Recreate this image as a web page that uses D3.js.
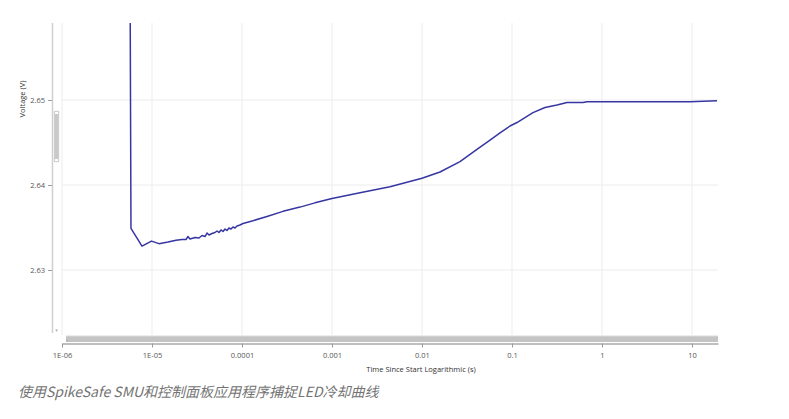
<!DOCTYPE html>
<html><head><meta charset="utf-8">
<script src="https://cdn.jsdelivr.net/npm/d3@7"></script>
<style>
html,body{margin:0;padding:0;background:#fff;}
svg{display:block;}
</style></head>
<body>
<script>
const timeValues = [5.55e-6, 5.84e-6, 7.74e-6, 9.87e-6, 1.196e-5, 1.506e-5, 1.848e-5, 2.154e-5,
  2.387e-5, 2.512e-5, 2.643e-5, 3.005e-5, 3.329e-5, 3.594e-5, 3.881e-5, 4.084e-5, 4.299e-5, 4.642e-5,
  5.012e-5, 5.275e-5, 5.552e-5, 5.843e-5, 6.15e-5, 6.473e-5, 6.813e-5, 7.17e-5, 7.547e-5, 7.943e-5,
  8.36e-5, 8.799e-5, 9.501e-5, 1.026e-4,
  1.326e-4, 1.896e-4, 2.854e-4, 4.41e-4, 6.47e-4, 1.0e-3, 2.047e-3, 4.41e-3, 0.01,
  0.01585, 0.02643, 0.0419, 0.057, 0.0736, 0.095, 0.1136, 0.1711, 0.2326, 0.3162,
  0.4085, 0.615, 0.681, 0.95, 1.585, 3.415, 9.5, 18.96];
const voltageValues = [2.70, 2.6349, 2.6328, 2.6334, 2.6331, 2.6333, 2.6335, 2.6336,
  2.63359, 2.63394, 2.63365, 2.63382, 2.63376, 2.63406, 2.63394, 2.63435, 2.63412, 2.63429,
  2.63441, 2.63459, 2.63441, 2.63471, 2.63453, 2.63482, 2.63465, 2.63494, 2.63482, 2.63506,
  2.63494, 2.63518, 2.63529, 2.63547,
  2.6358, 2.6363, 2.6369, 2.6374, 2.6379, 2.6384, 2.6391, 2.6398, 2.6408,
  2.64153, 2.64276, 2.64429, 2.64529, 2.64612, 2.64694, 2.64735, 2.64851, 2.64912, 2.64941,
  2.6497, 2.6497, 2.6498, 2.6498, 2.6498, 2.6498, 2.6498, 2.6499];
const xTicks = [1e-6, 1e-5, 1e-4, 1e-3, 1e-2, 1e-1, 1, 10];
const xTickLabels = ["1E-06", "1E-05", "0.0001", "0.001", "0.01", "0.1", "1", "10"];
const yTicks = [2.63, 2.64, 2.65];
const yTickLabels = ["2.63", "2.64", "2.65"];
const xTitle = "Time Since Start Logarithmic (s)";
const yTitle = "Voltage (V)";
const caption = "使用SpikeSafe SMU和控制面板应用程序捕捉LED冷却曲线";

const W = 789, H = 419;
const plot = {left: 62, right: 718, top: 23, bottom: 335};
const svg = d3.select("body").append("svg").attr("width", W).attr("height", H);

const x = d3.scaleLog().domain([1e-6, 10 ** 1.2889]).range([plot.left, plot.right]);
const y = d3.scaleLinear().domain([2.63 - 65 / 8500, 2.65 + 77 / 8500]).range([plot.bottom, plot.top]);

const font = "'Open Sans', 'DejaVu Sans', sans-serif";

// gridlines
const grid = svg.append("g");
grid.selectAll(".vg").data(xTicks).join("line")
  .attr("x1", d => x(d)).attr("x2", d => x(d))
  .attr("y1", plot.top).attr("y2", plot.bottom)
  .attr("stroke", "#ececec").attr("stroke-width", 1);
grid.selectAll(".hg").data(yTicks).join("line")
  .attr("x1", plot.left).attr("x2", plot.right)
  .attr("y1", d => y(d)).attr("y2", d => y(d))
  .attr("stroke", "#ececec").attr("stroke-width", 1);

// clip
svg.append("clipPath").attr("id", "clip").append("rect")
  .attr("x", plot.left).attr("y", plot.top)
  .attr("width", plot.right - plot.left).attr("height", plot.bottom - plot.top);

const data = timeValues.map((t, i) => ({t, v: voltageValues[i]}));
svg.append("path").datum(data)
  .attr("clip-path", "url(#clip)")
  .attr("fill", "none").attr("stroke", "#3636a2").attr("stroke-width", 1.5)
  .attr("stroke-linejoin", "round")
  .attr("d", d3.line().x(d => x(d.t)).y(d => y(d.v)));

// y axis
const yAxisX = 52;
const yAxis = d3.axisLeft(y).tickValues(yTicks).tickFormat((d, i) => yTickLabels[i]).tickSize(4).tickPadding(3);
const ya = svg.append("g").attr("transform", `translate(${yAxisX},0)`).call(yAxis);
ya.select(".domain").remove();
ya.selectAll(".tick line").attr("stroke", "#9a9a9a");
ya.selectAll(".tick text").attr("font-family", font).attr("font-size", 7.5).attr("fill", "#555");
svg.append("line").attr("x1", yAxisX + 0.5).attr("x2", yAxisX + 0.5)
  .attr("y1", plot.top).attr("y2", 333).attr("stroke", "#cfcfcf").attr("stroke-width", 1.5);
// y scrollbar thumb
svg.append("rect").attr("x", 54).attr("y", 111).attr("width", 5).attr("height", 51)
  .attr("fill", "#c9c9c9").attr("stroke", "#e0e0e0").attr("stroke-width", 0.5);
svg.append("rect").attr("x", 55).attr("y", 112).attr("width", 3).attr("height", 2).attr("fill", "#fff");
svg.append("rect").attr("x", 55).attr("y", 159).attr("width", 3).attr("height", 2).attr("fill", "#fff");
svg.append("text").attr("x", 56.5).attr("y", 332).attr("text-anchor", "middle")
  .attr("font-family", font).attr("font-size", 5).attr("fill", "#aaa").text("▾");

// x scrollbar
svg.append("rect").attr("x", 66).attr("y", 336).attr("width", plot.right - 66).attr("height", 6)
  .attr("fill", "#c4c4c4");
svg.append("line").attr("x1", 66).attr("x2", plot.right).attr("y1", 336).attr("y2", 336)
  .attr("stroke", "#dadada").attr("stroke-width", 1);
svg.append("text").attr("x", 67).attr("y", 341.5).attr("text-anchor", "middle")
  .attr("font-family", font).attr("font-size", 5).attr("fill", "#888").text("‹");

// x axis
const xAxis = d3.axisBottom(x).tickValues(xTicks).tickFormat((d, i) => xTickLabels[i]).tickSize(4).tickSizeOuter(0).tickPadding(5);
const xa = svg.append("g").attr("transform", `translate(0,343.5)`).call(xAxis);
xa.select(".domain").attr("stroke", "#a8a8a8").attr("stroke-width", 1.5);
xa.selectAll(".tick line").attr("stroke", "#9a9a9a");
xa.selectAll(".tick text").attr("font-family", font).attr("font-size", 7.5).attr("fill", "#555");

// titles
svg.append("text").attr("x", 421).attr("y", 372).attr("text-anchor", "middle")
  .attr("font-family", font).attr("font-size", 7.5).attr("fill", "#333").text(xTitle);
svg.append("text").attr("transform", "translate(25,99) rotate(-90)").attr("text-anchor", "middle")
  .attr("font-family", font).attr("font-size", 7.5).attr("fill", "#333").text(yTitle);

// caption
svg.append("text").attr("x", 18).attr("y", 397)
  .attr("font-family", "'Noto Sans CJK SC', 'Noto Sans', sans-serif").attr("font-size", 14)
  .attr("font-style", "italic").attr("fill", "#737373").text(caption);
</script>
</body></html>
